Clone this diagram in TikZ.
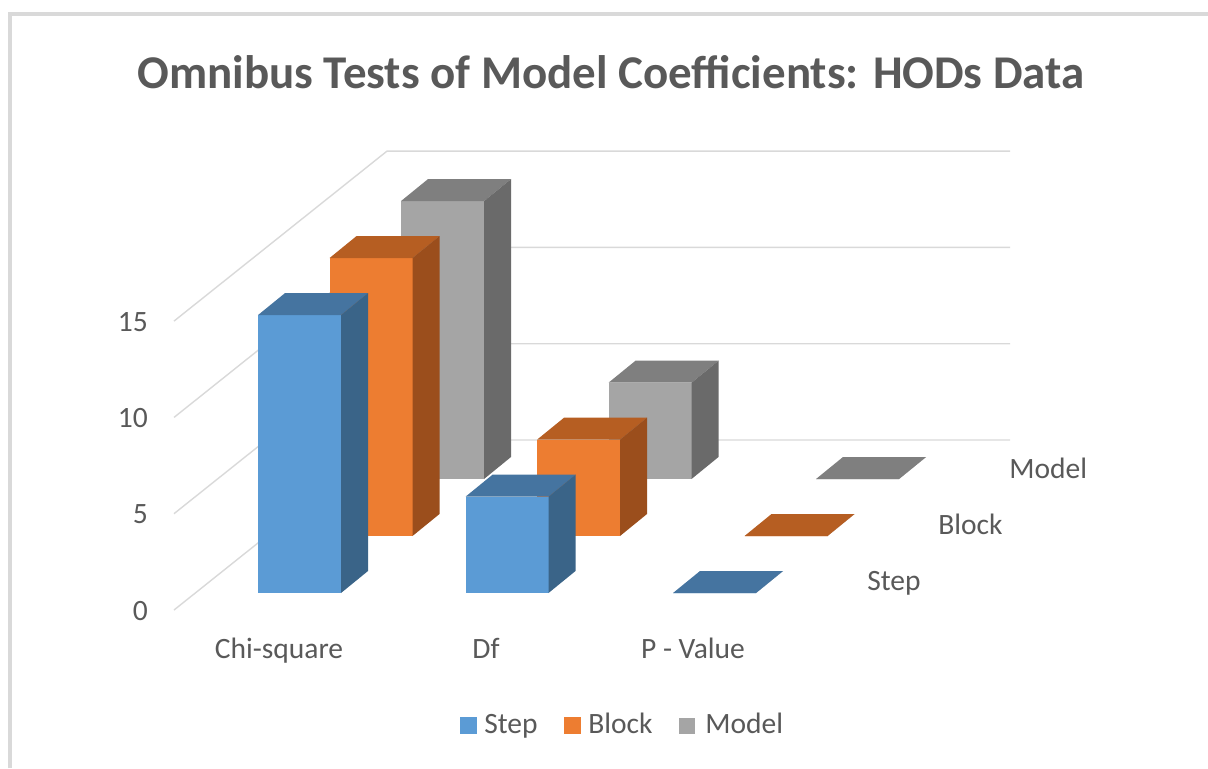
\documentclass[tikz,border=0pt]{standalone}
\usepackage{fontspec}
\setmainfont{Carlito}
\usetikzlibrary{positioning}
\definecolor{txtgray}{RGB}{89,89,89}
\definecolor{gridgray}{RGB}{217,217,217}
\definecolor{stepF}{RGB}{91,155,213}
\definecolor{stepT}{RGB}{69,116,160}
\definecolor{stepS}{RGB}{58,100,136}
\definecolor{blockF}{RGB}{237,125,49}
\definecolor{blockT}{RGB}{182,94,34}
\definecolor{blockS}{RGB}{155,78,28}
\definecolor{modelF}{RGB}{165,165,165}
\definecolor{modelT}{RGB}{127,127,127}
\definecolor{modelS}{RGB}{106,106,106}

% one 3d column: left x, base y, height, series
\newcommand{\colbar}[4]{%
  \fill[#4F] (#1,#2) rectangle +(83,-#3);
  \fill[#4T] (#1,#2-#3) -- ++(83,0) -- ++(27,-22) -- ++(-83,0) -- cycle;
  \fill[#4S] (#1+83,#2) -- ++(27,-22) -- ++(0,-#3) -- ++(-27,22) -- cycle;
}

\tikzset{
  lbl/.style={text=txtgray, inner sep=0pt, font=\fontsize{21}{25}\selectfont},
  gridline/.style={draw=gridgray, line width=1pt},
}

\begin{document}
\begin{tikzpicture}[x=0.25mm,y=-0.25mm]
  \useasboundingbox (0,0) rectangle (1208,768);
  \draw[gridgray, line width=2.2pt] (10,768) -- (10,14) -- (1208,14);

  \node[text=txtgray, anchor=base, inner sep=0pt, font=\fontsize{33.4}{40}\selectfont\bfseries]
    (title) at (611,88) {Omnibus Tests of Model Coefficients: HODs Data};

  % walls and floor
  \foreach \v in {0,5,10,15} {
    \draw[gridline] (174,610-19.26*\v) -- ++(213,-170) -- (1010,440-19.26*\v);
    \node[lbl, anchor=base east] (tick\v) at (148,620-19.26*\v) {\v};
  }

  % columns, back row first
  \foreach \s/\j in {model/2, block/1, step/0} {
    \foreach \val [count=\i from 0] in {14.43, 5, 0} {
      \pgfmathsetmacro\bx{258+207.5*\i+71.5*\j}
      \pgfmathsetmacro\by{593-57*\j}
      \pgfmathsetmacro\bh{19.26*\val}
      \colbar{\bx}{\by}{\bh}{\s}
    }
  }

  % category and series labels
  \foreach \c [count=\i from 0] in {Chi-square, Df, P - Value} {
    \node[lbl, anchor=base] (cat\i) at (279+207*\i,658) {\c};
  }
  \node[lbl, anchor=base west] (serstep) at (867,590) {Step};
  \node[lbl, anchor=base west] (serblock) at (938,534) {Block};
  \node[lbl, anchor=base west] (sermodel) at (1009,478) {Model};

  % legend
  \fill[stepF] (460,717) rectangle +(17,17);
  \node[lbl, anchor=base west] (keystep) at (484,733) {Step};
  \fill[blockF] (564,717) rectangle +(17,17);
  \node[lbl, anchor=base west] (keyblock) at (588,733) {Block};
  \fill[modelF] (679,718) rectangle +(16,16);
  \node[lbl, anchor=base west] (keymodel) at (705,733) {Model};
\end{tikzpicture}
\end{document}
